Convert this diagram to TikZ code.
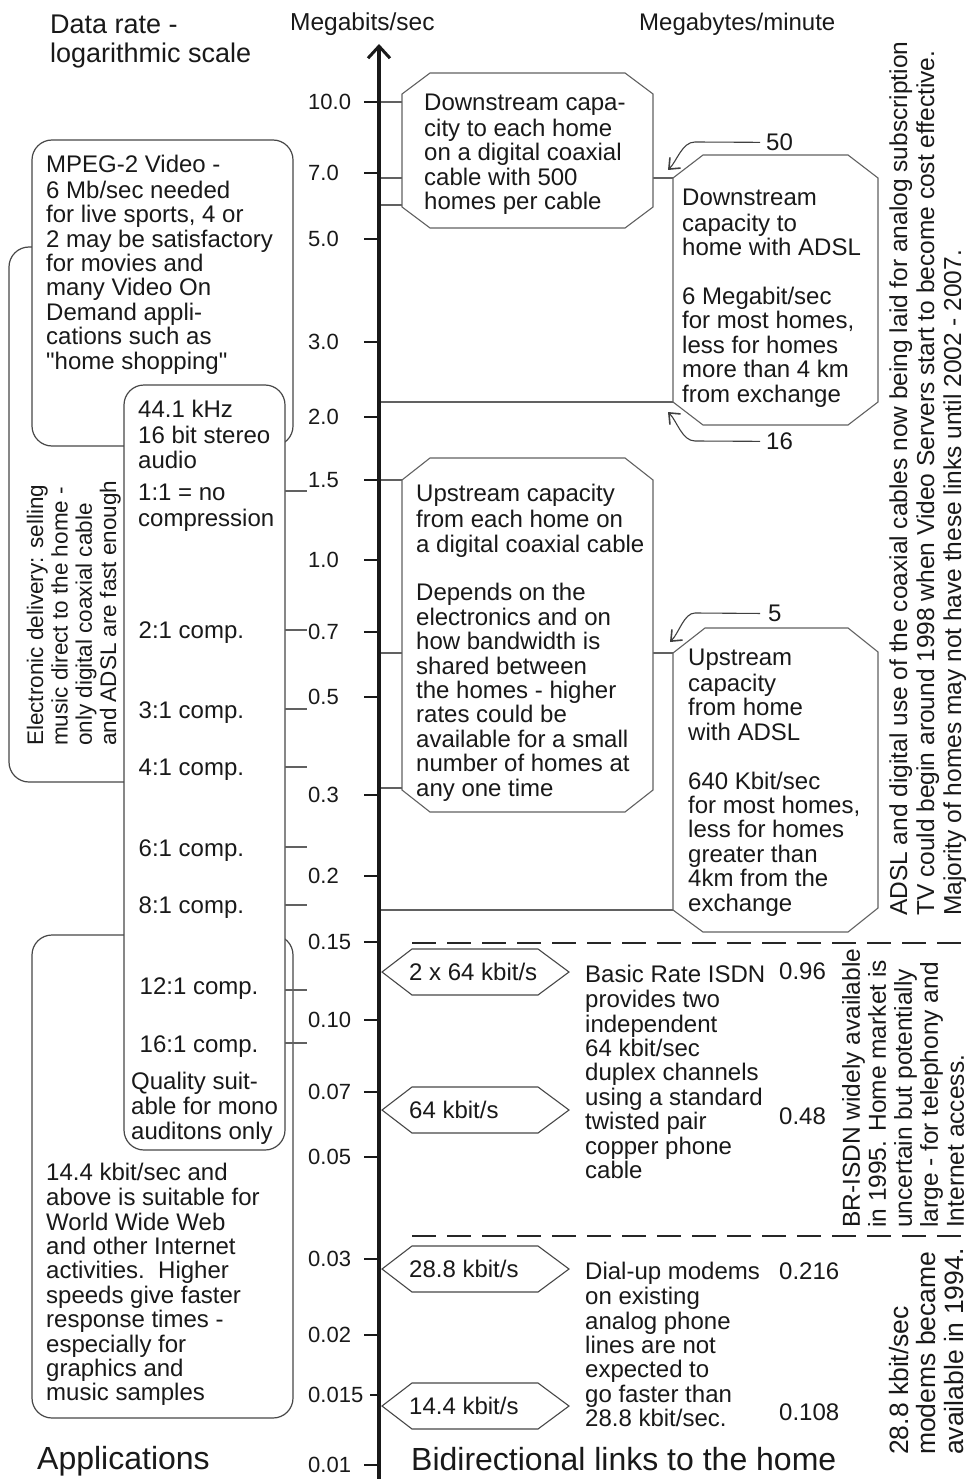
\documentclass[tikz,border=0pt]{standalone}
\usepackage{fontspec}
\setmainfont{Liberation Sans}
\newfontfamily\plainq{Liberation Sans}
\usetikzlibrary{arrows.meta}
\begin{document}
\begin{tikzpicture}[x=1pt,y=-1pt,
  every node/.style={inner sep=0pt, text=black!90},
  txt/.style={anchor=north west, align=left, font=\fontsize{24}{24.4}\selectfont},
  one/.style={anchor=base west, font=\fontsize{24}{24.4}\selectfont},
  tlab/.style={anchor=base west, font=\fontsize{22}{24}\selectfont},
  tickl/.style={line width=2.2pt, draw=black!90},
  conn/.style={draw=black!62, line width=1.1pt},
  bx/.style={draw=black!72, line width=1.2pt, fill=white, rounded corners=20pt},
  oct/.style={draw=black!62, line width=1.1pt, fill=white},
  hexa/.style={draw=black!72, line width=1.1pt, fill=white},
  dsh/.style={draw=black!85, line width=2.4pt, dash pattern=on 24pt off 11pt},
  curv/.style={draw=black!75, line width=1.1pt, -{Straight Barb[length=9pt,width=15pt,line width=1.6pt]}},
  rot/.style={anchor=north west, rotate=90, align=left, font=\fontsize{24.5}{27}\selectfont},
]
\path[use as bounding box, fill=white] (0,0) rectangle (967,1479);

% ---------- axis coordinates ----------
\coordinate (abot) at (379,1479);
\coordinate (atop) at (379,44);
\foreach \yy in {102,178,205,402,480,653,788,910}{\coordinate (a\yy) at (379,\yy);}
% octagon attach points
\coordinate (o1a) at (402,102); \coordinate (o1b) at (402,205);
\coordinate (d1) at (673,178);  \coordinate (d2) at (673,402);
\coordinate (u1a) at (402,480); \coordinate (u1b) at (402,788);
\coordinate (e1) at (673,653);  \coordinate (e2) at (673,910);

% connectors passing behind octagons
\draw[conn] (a178) -- (d1);
\draw[conn] (a653) -- (e1);

% ---------- left rounded boxes ----------
\draw[bx] (9,247) rectangle (200,782);
\draw[bx] (32,140) rectangle (293,446);
\draw[bx] (32,935) rectangle (293,1418);
\draw[bx] (124,385) rectangle (285,1150);

% ---------- octagons ----------
\draw[oct] (430,73) -- (625,73) -- (653,94) -- (653,207) -- (625,228) -- (430,228) -- (402,207) -- (402,94) -- cycle;
\draw[oct] (703,155) -- (848,155) -- (878,178) -- (878,402) -- (848,425) -- (703,425) -- (673,402) -- (673,178) -- cycle;
\draw[oct] (430,458) -- (625,458) -- (653,480) -- (653,790) -- (625,812) -- (430,812) -- (402,790) -- (402,480) -- cycle;
\draw[oct] (705,628) -- (848,628) -- (878,652) -- (878,908) -- (848,932) -- (703,932) -- (673,910) -- (673,653) -- cycle;

% other connectors
\draw[conn] (a102) -- (o1a);
\draw[conn] (a205) -- (o1b);
\draw[conn] (a402) -- (d2);
\draw[conn] (a480) -- (u1a);
\draw[conn] (a788) -- (u1b);
\draw[conn] (a910) -- (e2);

% ---------- dashed separators ----------
\draw[dsh] (412,943) -- (967,943);
\draw[dsh] (412,1236) -- (967,1236);

% ---------- hexagons ----------
\foreach \yy/\lab/\nm in {972/{2 x 64 kbit/s}/ha, 1110/{64 kbit/s}/hb, 1269/{28.8 kbit/s}/hc, 1406/{14.4 kbit/s}/hd}{
  \draw[hexa] (382,\yy) -- (412,\yy-23) -- (538,\yy-23) -- (569,\yy) -- (538,\yy+23) -- (412,\yy+23) -- cycle;
  \node[one] (\nm) at (409,\yy+8.6) {\lab};
}

% ---------- axis and ticks ----------
\draw[line width=3.4pt, black!90, -{Straight Barb[length=12pt,width=22pt,line width=3pt]}] (abot) -- (atop);
\foreach \lab/\yy/\xs [count=\k] in {10.0/102/364, 7.0/173/364, 5.0/239/364, 3.0/342/364, 2.0/417/364, 1.5/480/364, 1.0/560/364, 0.7/632/364, 0.5/697/364, 0.3/795/364, 0.2/876/364, 0.15/942/364, 0.10/1020/364, 0.07/1092/364, 0.05/1157/364, 0.03/1259/364, 0.02/1335/364, 0.015/1395/370, 0.01/1465/364}{
  \node[tlab] (tl\k) at (308,\yy+7.9) {\lab};
  \coordinate (tk\k) at (379,\yy);
  \draw[tickl] (\xs,\yy) -- (tk\k);
}

% ---------- audio leaders ----------
\foreach \yy [count=\k] in {491,630,709,767,847,905,990,1043}{
  \coordinate (la\k) at (285,\yy);
  \coordinate (lb\k) at (307,\yy);
  \draw[conn] (la\k) -- (lb\k);
}

% ---------- headings ----------
\node[anchor=north west, align=left, font=\fontsize{27}{26}\selectfont] (hdr) at (50,15) {\strut Data rate -\\logarithmic scale};
\node[anchor=north west, font=\fontsize{24.5}{24.4}\selectfont] (mbs) at (290,13) {\strut Megabits/sec};
\node[anchor=north west, font=\fontsize{24}{24.4}\selectfont] (mbm) at (639,13) {\strut Megabytes/minute};
\node[anchor=north west, font=\fontsize{32}{33}\selectfont] (apps) at (37,1446) {\strut Applications};
\node[anchor=north west, font=\fontsize{32}{33}\selectfont] (bidi) at (411,1447) {\strut Bidirectional links to the home};

% ---------- left texts ----------
\node[txt] (mpeg) at (46,155) {\strut MPEG-2 Video -\\6 Mb/sec needed\\for live sports, 4 or\\2 may be satisfactory\\for movies and\\many Video On\\Demand appli-\\cations such as\\{\plainq"}home shopping{\plainq"}};
\node[rot, font=\fontsize{22.5}{24.3}\selectfont] (elec) at (26,746) {\strut Electronic delivery: selling\\music direct to the home -\\only digital coaxial cable\\and ADSL are fast enough};
\node[txt] (aud) at (138,400.4) {\strut 44.1 kHz\\16 bit stereo\\audio};
\node[txt] (c1) at (138,483.4) {\strut 1:1 = no\\compression};
\node[one] (c2) at (138.5,638.6) {2:1 comp.};
\node[one] (c3) at (138.5,718.6) {3:1 comp.};
\node[one] (c4) at (138.5,775.6) {4:1 comp.};
\node[one] (c6) at (138.5,856.6) {6:1 comp.};
\node[one] (c8) at (138.5,913.6) {8:1 comp.};
\node[one] (c12) at (139.5,994.6) {12:1 comp.};
\node[one] (c16) at (139.5,1052.6) {16:1 comp.};
\node[txt] (qual) at (131,1071.4) {\strut Quality suit-\\able for mono\\auditons only};
\node[txt] (web) at (46,1162.4) {\strut 14.4 kbit/sec and\\above is suitable for\\World Wide Web\\and other Internet\\activities.\ \ Higher\\speeds give faster\\response times -\\especially for\\graphics and\\music samples};

% ---------- octagon texts ----------
\node[txt] (cdown) at (424,93.4) {\strut Downstream capa-\\city to each home\\on a digital coaxial\\cable with 500\\homes per cable};
\node[txt] (adown) at (682,188.4) {\strut Downstream\\capacity to\\home with ADSL\\[24.4pt]6 Megabit/sec\\for most homes,\\less for homes\\more than 4 km\\from exchange};
\node[txt] (cup) at (416,484.4) {\strut Upstream capacity\\from each home on\\a digital coaxial cable\\[24.4pt]Depends on the\\electronics and on\\how bandwidth is\\shared between\\the homes - higher\\rates could be\\available for a small\\number of homes at\\any one time};
\node[txt] (aup) at (688,648.4) {\strut Upstream\\capacity\\from home\\with ADSL\\[24.4pt]640 Kbit/sec\\for most homes,\\less for homes\\greater than\\4km from the\\exchange};

% ---------- MB/min arrows ----------
\node[one, inner xsep=6pt] (l50) at (760,150.6) {50};
\coordinate (t50) at (668,170);
\draw[curv] (l50.west) -- (695,142) .. controls (682,142) and (677,161) .. (t50);
\node[one, inner xsep=6pt] (l16) at (760,449.6) {16};
\coordinate (t16) at (668,412);
\draw[curv] (l16.west) -- (695,441) .. controls (682,441) and (677,421) .. (t16);
\node[one, inner xsep=8pt] (l5) at (760,621.6) {5};
\coordinate (t5) at (670,642);
\draw[curv] (l5.west) -- (695,613) .. controls (684,613) and (679,633) .. (t5);

% ---------- ISDN / modem texts ----------
\node[txt] (isdn) at (585,964.4) {\strut Basic Rate ISDN\\provides two\\independent\\64 kbit/sec\\duplex channels\\using a standard\\twisted pair\\copper phone\\cable};
\node[txt] (dial) at (585,1261.4) {\strut Dial-up modems\\on existing\\analog phone\\lines are not\\expected to\\go faster than\\28.8 kbit/sec.};
\node[one] (n96) at (779,979) {0.96};
\node[one] (n48) at (779,1124) {0.48};
\node[one] (n216) at (779,1279) {0.216};
\node[one] (n108) at (779,1420) {0.108};

% ---------- rotated notes on the right ----------
\node[rot] (adslnote) at (888,916) {\strut ADSL and digital use of the coaxial cables now being laid for analog subscription\\TV could begin around 1998 when Video Servers start to become cost effective.\\Majority of homes may not have these links until 2002 - 2007.};
\node[rot, font=\fontsize{24.5}{26}\selectfont] (isdnnote) at (841.5,1228) {\strut BR-ISDN widely available\\in 1995. Home market is\\uncertain but potentially\\large - for telephony and\\Internet access.};
\node[rot, font=\fontsize{26.5}{27.5}\selectfont] (modemnote) at (889,1455) {\strut 28.8 kbit/sec\\modems became\\available in 1994.};
\end{tikzpicture}
\end{document}
